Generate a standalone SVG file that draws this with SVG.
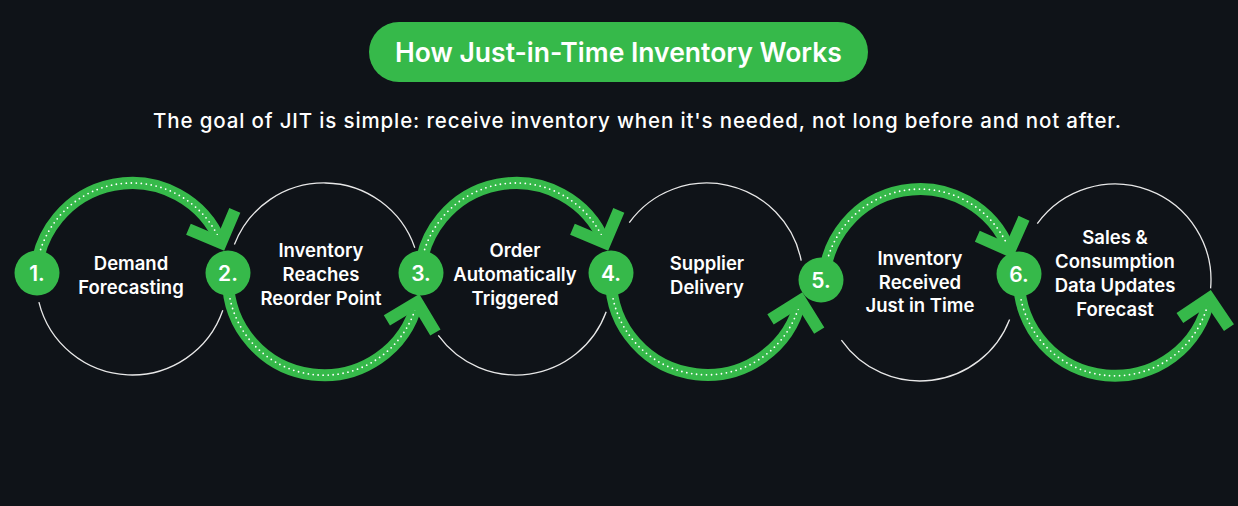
<svg xmlns="http://www.w3.org/2000/svg" width="1238" height="506" viewBox="0 0 1238 506">
<style>
.bg{fill:#0f1318}
.ring{fill:none;stroke:#e8e8e8;stroke-width:1.3}
.arc{fill:none;stroke:#36b94a;stroke-width:12}
.dots{fill:none;stroke:#ffffff;stroke-width:1.8;stroke-dasharray:0 5;stroke-linecap:round}
.chev{fill:none;stroke:#36b94a;stroke-width:12;stroke-linejoin:miter;stroke-miterlimit:10;stroke-linecap:butt}
.badge{fill:#36b94a}
.num{fill:#ffffff;font-family:Inter,"Noto Sans",sans-serif;font-size:21px;font-weight:600;text-anchor:middle}
.lbl{fill:#ffffff;font-family:Inter,"Noto Sans",sans-serif;font-size:18.5px;font-weight:600;text-anchor:middle}
.title{fill:#ffffff;font-family:Inter,"Noto Sans",sans-serif;font-size:26.5px;font-weight:600;text-anchor:middle}
.sub{fill:#ffffff;font-family:Inter,"Noto Sans",sans-serif;font-size:20.5px;font-weight:500}
</style>
<defs>
<polyline id="chev" points="-25,-25 0,0 -25,25"/>
</defs>
<rect class="bg" x="0" y="0" width="1238" height="506"/>
<g id="header">
<rect x="369" y="22" width="499" height="60" rx="30" fill="#36b94a"/>
<text class="title" x="618.5" y="61.5">How Just-in-Time Inventory Works</text>
<text class="sub" x="153" y="127.5" textLength="968" lengthAdjust="spacing">The goal of JIT is simple: receive inventory when it's needed, not long before and not after.</text>
</g>
<g id="connectors">
<path class="ring" d="M 222.8,310.3 A 96 96 0 0 1 38.9,302.2"/>
<path class="ring" d="M 234.4,244.6 A 96 96 0 0 1 414.8,247.7"/>
<path class="ring" d="M 606.2,311.8 A 96 96 0 0 1 438.3,335.4"/>
<path class="ring" d="M 629.3,222.6 A 96 96 0 0 1 801.2,260.7"/>
<path class="ring" d="M 1009.6,319.4 A 96 96 0 0 1 841.4,340.1"/>
<path class="ring" d="M 1037.3,223.6 A 96 96 0 0 1 1210.6,288.4"/>

<path class="arc" d="M 36,279 A 96 96 0 0 1 221,243"/>
<path class="dots" d="M 36,279 A 96 96 0 0 1 221,243"/>
<use href="#chev" class="chev" transform="translate(221,243) rotate(68)"/>

<path class="arc" d="M 228,279 A 96 96 0 0 0 417.2,302.2"/>
<path class="dots" d="M 228,279 A 96 96 0 0 0 417.2,302.2"/>
<use href="#chev" class="chev" transform="translate(417.2,302.2) rotate(-76)"/>

<path class="arc" d="M 420,279 A 96 96 0 0 1 605,243"/>
<path class="dots" d="M 420,279 A 96 96 0 0 1 605,243"/>
<use href="#chev" class="chev" transform="translate(605,243) rotate(68)"/>

<path class="arc" d="M 611,279 A 96 96 0 0 0 800.5,300.6"/>
<path class="dots" d="M 611,279 A 96 96 0 0 0 800.5,300.6"/>
<use href="#chev" class="chev" transform="translate(800.5,300.6) rotate(-77)"/>

<path class="arc" d="M 824,285 A 96 96 0 0 1 1009.6,250.6"/>
<path class="dots" d="M 824,285 A 96 96 0 0 1 1009.6,250.6"/>
<use href="#chev" class="chev" transform="translate(1009.6,250.6) rotate(69)"/>

<path class="arc" d="M 1019,280 A 96 96 0 0 0 1209.2,298.3"/>
<path class="dots" d="M 1019,280 A 96 96 0 0 0 1209.2,298.3"/>
<use href="#chev" class="chev" transform="translate(1209.2,298.3) rotate(-79)"/>
</g>
<g id="step1">
<circle class="badge" cx="37" cy="273" r="22.5"/>
<text class="num" x="37" y="280.5">1.</text>
<text class="lbl" x="131" y="270">Demand</text>
<text class="lbl" x="131" y="294">Forecasting</text>
</g>
<g id="step2">
<circle class="badge" cx="228" cy="273" r="22.5"/>
<text class="num" x="228" y="280.5">2.</text>
<text class="lbl" x="321" y="257">Inventory</text>
<text class="lbl" x="321" y="281">Reaches</text>
<text class="lbl" x="321" y="304.5">Reorder Point</text>
</g>
<g id="step3">
<circle class="badge" cx="421" cy="273" r="22.5"/>
<text class="num" x="421" y="280.5">3.</text>
<text class="lbl" x="515" y="257">Order</text>
<text class="lbl" x="515" y="281">Automatically</text>
<text class="lbl" x="515" y="304.5">Triggered</text>
</g>
<g id="step4">
<circle class="badge" cx="611" cy="273" r="22.5"/>
<text class="num" x="611" y="280.5">4.</text>
<text class="lbl" x="707" y="270">Supplier</text>
<text class="lbl" x="707" y="294">Delivery</text>
</g>
<g id="step5">
<circle class="badge" cx="821" cy="280" r="22.5"/>
<text class="num" x="821" y="287.5">5.</text>
<text class="lbl" x="920" y="265">Inventory</text>
<text class="lbl" x="920" y="288.5">Received</text>
<text class="lbl" x="920" y="312">Just in Time</text>
</g>
<g id="step6">
<circle class="badge" cx="1019" cy="274" r="22.5"/>
<text class="num" x="1019" y="281.5">6.</text>
<text class="lbl" x="1115" y="244">Sales &amp;</text>
<text class="lbl" x="1115" y="268">Consumption</text>
<text class="lbl" x="1115" y="292">Data Updates</text>
<text class="lbl" x="1115" y="316">Forecast</text>
</g>
</svg>
